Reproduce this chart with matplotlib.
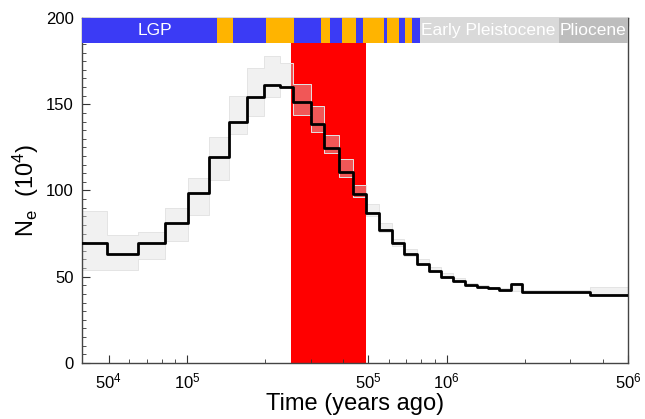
import matplotlib
matplotlib.use('Agg')
import matplotlib.pyplot as plt
from matplotlib.ticker import FixedLocator, NullFormatter, MultipleLocator

plt.rcParams['font.family'] = ['Liberation Sans', 'DejaVu Sans']
plt.rcParams['mathtext.fontset'] = 'custom'
plt.rcParams['mathtext.rm'] = 'Liberation Sans'
plt.rcParams['mathtext.it'] = 'Liberation Sans'

# step edges (years ago) and Ne (x10^4) of the main PSMC curve
t_edges = [3.95e4, 4.91e4, 6.49e4, 8.22e4, 1.009e5, 1.216e5, 1.449e5, 1.704e5,
           1.977e5, 2.279e5, 2.558e5, 3.002e5, 3.38e5, 3.85e5, 4.342e5, 4.894e5,
           5.495e5, 6.14e5, 6.86e5, 7.68e5, 8.57e5, 9.55e5, 1.061e6, 1.173e6,
           1.309e6, 1.443e6, 1.596e6, 1.765e6, 1.958e6, 2.641e6, 3.56e6, 5e6]
ne = [69.4, 63.4, 69.4, 81.0, 98.4, 119.6, 139.5, 154.2, 161.0, 159.8, 151.3,
      138.5, 124.6, 110.9, 98.2, 87.0, 77.3, 69.4, 63.0, 57.5, 53.4, 50.0, 47.7,
      45.4, 44.1, 43.3, 42.3, 46.0, 41.3, 41.2, 39.4]
# bootstrap spread (lower / upper envelope)
boot_lo = [54, 54, 60, 71, 86, 106, 133, 143, 154, 160, 144, 134, 122, 108, 96,
           85, 76, 68, 62, 57, 53, 49.5, 47.3, 45, 43.8, 43, 42, 42, 41, 41, 39.4]
boot_hi = [88, 74, 76, 90, 107, 131, 155, 171, 178, 174, 162, 149, 132, 118, 103,
           92, 81, 72, 66, 60, 55.5, 52, 49, 46.5, 45, 44, 43.5, 46.5, 42.5, 42.5, 44]

# climate periods strip along the top
period_edges = [3.95e4, 1.30e5, 1.51e5, 2.01e5, 2.58e5, 3.29e5, 3.57e5, 3.95e5,
                4.49e5, 4.78e5, 5.75e5, 5.89e5, 6.53e5, 6.89e5, 7.39e5, 7.91e5,
                2.70e6, 5e6]
period_colors = ['#3b3bf5', '#ffb400', '#3b3bf5', '#ffb400', '#3b3bf5', '#ffb400',
                 '#3b3bf5', '#ffb400', '#3b3bf5', '#ffb400', '#3b3bf5', '#ffb400',
                 '#3b3bf5', '#ffb400', '#3b3bf5', '#d9d9d9', '#bdbdbd']
period_labels = ['LGP', 'Early Pleistocene', 'Pliocene']
period_label_x = [7.5e4, 1.45e6, 3.68e6]

red_span = [2.51e5, 4.89e5]

fig = plt.figure(figsize=(6.45, 4.19), dpi=100)
ax = fig.add_axes([0.1276, 0.1337, 0.8460, 0.8233])

ax.axvspan(red_span[0], red_span[1], color='#ff0000', lw=0, zorder=1)

# bootstrap band
xs = t_edges
lo = boot_lo + [boot_lo[-1]]
hi = boot_hi + [boot_hi[-1]]
ax.fill_between(xs, lo, hi, step='post', color='#dcdcdc', alpha=0.4, lw=0, zorder=2)
ax.step(xs, lo, where='post', color='#e4e4e4', lw=0.7, zorder=2)
ax.step(xs, hi, where='post', color='#e4e4e4', lw=0.7, zorder=2)

# main curve
ax.step(xs, ne + [ne[-1]], where='post', color='black', lw=2, zorder=3)

# period strip
for i, c in enumerate(period_colors):
    ax.fill_between([period_edges[i], period_edges[i + 1]], 185.5, 200,
                    color=c, lw=0, zorder=4)
for lab, x in zip(period_labels, period_label_x):
    ax.text(x, 192.5, lab, color='white', fontsize=12.5, ha='center',
            va='center', zorder=5)

ax.set_xscale('log')
ax.set_xlim(3.95e4, 5e6)
ax.set_ylim(0, 200)

ax.xaxis.set_major_locator(FixedLocator([5e4, 1e5, 5e5, 1e6, 5e6]))
ax.set_xticklabels(['50$^{4}$', '10$^{5}$', '50$^{5}$', '10$^{6}$', '50$^{6}$'])
minor = [6e4, 7e4, 8e4, 9e4, 2e5, 3e5, 4e5, 6e5, 7e5, 8e5, 9e5, 2e6, 3e6, 4e6]
ax.xaxis.set_minor_locator(FixedLocator(minor))
ax.xaxis.set_minor_formatter(NullFormatter())
ax.yaxis.set_major_locator(MultipleLocator(50))
ax.yaxis.set_minor_locator(MultipleLocator(5))

ax.tick_params(which='both', direction='in', top=True, right=False,
               labelsize=12, color='#333333', pad=6)
ax.tick_params(which='major', length=6)
ax.tick_params(which='minor', length=3)
for s in ax.spines.values():
    s.set_color('#444444')
    s.set_linewidth(1)

ax.set_xlabel('Time (years ago)', fontsize=17, labelpad=1)
ax.set_ylabel('N$_{\\mathrm{e}}$  (10$^{4}$)', fontsize=17, labelpad=4)

fig.savefig('out.png', dpi=100)
